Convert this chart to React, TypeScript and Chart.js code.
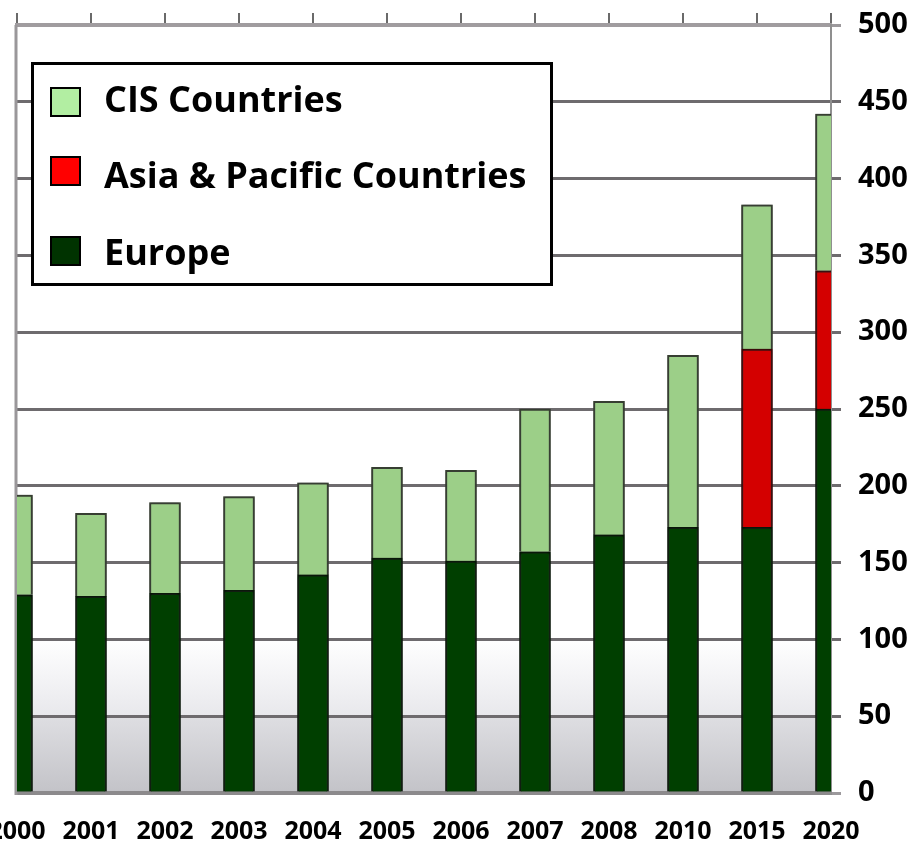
import React, { useEffect, useRef } from 'react';
import { Chart, registerables } from 'chart.js';

Chart.register(...registerables);

const categories = ['2000', '2001', '2002', '2003', '2004', '2005', '2006', '2007', '2008', '2010', '2015', '2020'];
const europe = [129, 128, 130, 132, 142, 153, 151, 157, 168, 173, 173, 250];
const asiaPacific = [null, null, null, null, null, null, null, null, null, null, 116, 90];
const cis = [65, 54, 59, 61, 60, 59, 59, 93, 87, 112, 94, 102];

const seriesNames = ['Europe', 'Asia & Pacific Countries', 'CIS Countries'];
const barColors = ['#003f00', '#d40000', '#9ccf88'];
const barBorders = ['#001200', '#3a0000', '#363f30'];
const legendSwatches = ['#003300', '#ff0000', '#b2eea2'];

const yMin = 0;
const yMax = 500;
const yStep = 50;

const FONT = '"Open Sans", "DejaVu Sans", sans-serif';

const backgroundPlugin = {
  id: 'bgGradient',
  beforeDraw(chart: any) {
    const { ctx, chartArea: a, scales } = chart;
    const y = scales.y;
    const y100 = y.getPixelForValue(100);
    const y50 = y.getPixelForValue(50);
    const y0 = y.getPixelForValue(0);
    ctx.save();
    let g = ctx.createLinearGradient(0, y100, 0, y50);
    g.addColorStop(0, '#ffffff');
    g.addColorStop(1, '#e8e8ec');
    ctx.fillStyle = g;
    ctx.fillRect(a.left, y100, a.right - a.left, y50 - y100);
    g = ctx.createLinearGradient(0, y50, 0, y0);
    g.addColorStop(0, '#dedee2');
    g.addColorStop(1, '#c3c3c8');
    ctx.fillStyle = g;
    ctx.fillRect(a.left, y50, a.right - a.left, y0 - y50);
    ctx.restore();
  },
  beforeDatasetsDraw(chart: any) {
    const { ctx, chartArea: a } = chart;
    ctx.save();
    ctx.strokeStyle = '#9a979a';
    ctx.lineWidth = 3;
    ctx.beginPath();
    ctx.moveTo(a.left - 1, a.top);
    ctx.lineTo(a.left - 1, a.bottom + 2);
    ctx.stroke();
    ctx.restore();
    ctx.save();
    ctx.shadowColor = 'rgba(60,60,60,0.7)';
    ctx.shadowBlur = 4;
  },
  afterDatasetsDraw(chart: any) {
    chart.ctx.restore();
  },
  afterDraw(chart: any) {
    const { ctx } = chart;
    const box = { x: 31, y: 62, w: 522, h: 224 };
    ctx.save();
    ctx.fillStyle = '#ffffff';
    ctx.fillRect(box.x, box.y, box.w, box.h);
    ctx.lineWidth = 3;
    ctx.strokeStyle = '#000000';
    ctx.strokeRect(box.x + 1.5, box.y + 1.5, box.w - 3, box.h - 3);
    const swatchTops = [87, 156, 236];
    const baselines = [112, 188, 265];
    const n = chart.data.datasets.length;
    for (let i = 0; i < n; i++) {
      const di = n - 1 - i;
      const ds = chart.data.datasets[di];
      ctx.fillStyle = legendSwatches[di];
      ctx.fillRect(50, swatchTops[i], 31, 30);
      ctx.lineWidth = 2;
      ctx.strokeStyle = '#000';
      ctx.strokeRect(51, swatchTops[i] + 1, 29, 28);
      ctx.fillStyle = '#000';
      ctx.font = `bold 36px ${FONT}`;
      ctx.textBaseline = 'alphabetic';
      ctx.textAlign = 'left';
      ctx.fillText(ds.label, 104, baselines[i]);
    }
    ctx.restore();
  },
};

export default function App() {
  const ref = useRef<HTMLCanvasElement>(null);
  useEffect(() => {
    document.body.style.margin = '0';
    const datasetBase = { borderWidth: 2, stack: 's', clip: 0, barThickness: 31 };
    const chart = new Chart(ref.current as HTMLCanvasElement, {
      type: 'bar',
      data: {
        labels: categories,
        datasets: [
          { ...datasetBase, label: seriesNames[0], data: europe, backgroundColor: barColors[0], borderColor: barBorders[0] },
          { ...datasetBase, label: seriesNames[1], data: asiaPacific as any, backgroundColor: barColors[1], borderColor: barBorders[1] },
          { ...datasetBase, label: seriesNames[2], data: cis, backgroundColor: barColors[2], borderColor: barBorders[2] },
        ] as any,
      },
      options: {
        animation: false,
        responsive: false,
        maintainAspectRatio: false,
        layout: { padding: { left: 17, right: 0, top: 0, bottom: 0 } },
        plugins: { legend: { display: false }, tooltip: { enabled: false }, title: { display: false } },
        scales: {
          x: {
            type: 'category',
            position: 'bottom',
            stacked: true,
            offset: false,
            grid: { display: true, offset: false, drawOnChartArea: false, drawTicks: false },
            border: { display: true, color: '#8c8a8c', width: 4 },
            ticks: {
              color: '#000',
              font: { family: FONT, size: 25, weight: 'bold' },
              padding: 24,
              autoSkip: false,
              maxRotation: 0,
              minRotation: 0,
            },
            afterFit: (s: any) => {
              s.height = 52;
              s.paddingLeft = 0;
              s.paddingRight = 0;
            },
          },
          x2: {
            type: 'category',
            position: 'top',
            offset: false,
            grid: { display: true, offset: false, drawOnChartArea: false, drawTicks: true, tickLength: 12, color: '#6a6a6a', lineWidth: 2 },
            border: { display: true, color: '#a09c9f', width: 4 },
            ticks: { display: false },
            afterFit: (s: any) => {
              s.height = 25;
              s.paddingLeft = 0;
              s.paddingRight = 0;
            },
          },
          y: {
            type: 'linear',
            position: 'right',
            stacked: true,
            min: yMin,
            max: yMax,
            ticks: {
              stepSize: yStep,
              color: '#000',
              font: { family: FONT, size: 29, weight: 'bold' },
              padding: 17,
            },
            grid: {
              display: true,
              drawOnChartArea: true,
              drawTicks: true,
              tickLength: 10,
              lineWidth: 3,
              color: (c: any) => (c.tick && (c.tick.value === yMax || c.tick.value === yMin) ? '#9c999c' : '#6e6b6e'),
            },
            border: { display: true, color: '#8f8f8f', width: 2 },
            afterFit: (s: any) => {
              s.width = 85;
              s.paddingTop = 0;
              s.paddingBottom = 0;
            },
          },
        },
      } as any,
      plugins: [backgroundPlugin],
    });
    return () => chart.destroy();
  }, []);
  return <canvas ref={ref} width={916} height={845} style={{ display: 'block', width: 916, height: 845 }} />;
}
